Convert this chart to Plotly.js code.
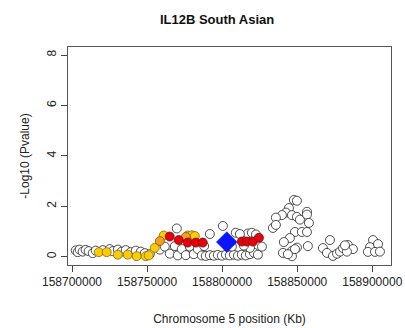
<!DOCTYPE html>
<html>
<head>
<meta charset="utf-8">
<script src="https://cdn.plot.ly/plotly-3.0.1.min.js"></script>
<style>
  html, body { margin: 0; padding: 0; background: #fff; }
  #chart { width: 405px; height: 328px; }
</style>
</head>
<body>
<div id="chart"></div>
<script>
// Regional association plot for IL12B (South Asian), chromosome 5.
// Positions in bp, association strength as -log10(P).

// SNPs with low linkage to the lead variant (open circles), left block
var lowPos = [
  158702500, 158703800, 158705100, 158707100, 158709100, 158711100, 158713800, 158715800,
  158720500, 158725100, 158727100, 158730500, 158733100, 158735800, 158739100, 158742500,
  158745800, 158748500, 158751800,
  158758500, 158761800, 158765100, 158768500, 158770500, 158773100, 158775800, 158778500,
  158781100, 158783800, 158786500, 158789100, 158791800, 158794500, 158797100, 158799800,
  158802500, 158805100, 158807800, 158810500, 158813100, 158815800, 158818500, 158821100,
  158823800, 158826500, 158818500, 158814500, 158817100, 158819800, 158822500, 158809100,
  158811800, 158769800, 158791800, 158800500, 158806500, 158788000
];
var lowLogP = [
  0.25, 0.18, 0.28, 0.20, 0.27, 0.22, 0.14, 0.24,
  0.26, 0.30, 0.22, 0.28, 0.20, 0.26, 0.18, 0.24,
  0.20, 0.14, 0.10,
  0.28, 0.40, 0.12, 0.42, 0.05, 0.30, 0.06, 0.40,
  0.10, 0.30, 0.05, 0.03, 0.06, 0.04, 0.07, 0.04,
  0.08, 0.05, 0.08, 0.04, 0.08, 0.05, 0.10, 0.16,
  0.08, 0.40, 0.35, 0.44, 0.92, 0.95, 0.88, 0.95,
  0.90, 1.12, 0.90, 1.22, 0.40, 0.42
];

// Secondary peak near 158.85 Mb and the SNPs to its right (open circles)
var peakPos = [
  158847800, 158849800, 158844500, 158842500, 158839800, 158835800, 158833800, 158835800,
  158846500, 158849800, 158851800, 158856500, 158856500, 158857800, 158848500, 158853100,
  158856500, 158845100, 158841100, 158857100, 158849800, 158840500, 158846500, 158846500,
  158843800, 158848500,
  158871800, 158867100, 158869800, 158873800, 158876500, 158878500, 158880500, 158883800,
  158887100, 158883100, 158881800,
  158900500, 158898500, 158903800, 158897100, 158901800, 158905100
];
var peakLogP = [
  2.25, 2.22, 1.93, 1.75, 1.65, 1.55, 1.14, 1.26,
  1.65, 1.58, 1.47, 1.78, 1.67, 1.34, 0.98, 0.98,
  0.98, 0.74, 0.58, 0.42, 0.36, 0.15, 0.23, 0.02,
  0.10, 0.30,
  0.66, 0.34, 0.15, 0.03, 0.12, 0.20, 0.34, 0.46,
  0.30, 0.20, 0.45,
  0.66, 0.38, 0.50, 0.19, 0.19, 0.20
];

// Moderate linkage (gold)
var goldPos = [
  158717800, 158723100, 158730500, 158737100, 158743100, 158749100, 158751100,
  158755100, 158761100, 158777100, 158779800, 158781800
];
var goldLogP = [
  0.18, 0.18, 0.08, 0.08, 0.02, 0.02, 0.05,
  0.35, 0.84, 0.84, 0.85, 0.82
];

// Higher linkage (orange)
var orangePos = [158758500, 158775800];
var orangeLogP = [0.62, 0.78];

// Strong linkage (red)
var redPos = [
  158765100, 158771100, 158777100, 158782500, 158787100,
  158813100, 158816500, 158820500, 158824500
];
var redLogP = [
  0.80, 0.66, 0.56, 0.56, 0.56,
  0.60, 0.60, 0.60, 0.75
];

// Lead SNP (blue diamond)
var leadPos = [158803100];
var leadLogP = [0.58];

var xTickVals = [158700000, 158750000, 158800000, 158850000, 158900000];
var xTickText = ['158700000', '158750000', '158800000', '158850000', '158900000'];
var yTickVals = [0, 2, 4, 6, 8];
var yTickText = ['0', '2', '4', '6', '8'];

var FONT = 'Liberation Sans, Arial, sans-serif';

function circles(x, y, fill, edge) {
  return {
    x: x, y: y, type: 'scatter', mode: 'markers', hoverinfo: 'skip',
    marker: { symbol: 'circle', size: 9, color: fill,
              line: { color: edge, width: 0.8 } }
  };
}

var traces = [
  circles(lowPos, lowLogP, '#ffffff', '#222222'),
  circles(peakPos, peakLogP, '#ffffff', '#222222'),
  circles(goldPos, goldLogP, '#ffcc00', '#7a6a20'),
  circles(orangePos, orangeLogP, '#f5a01a', '#7a5020'),
  circles(redPos, redLogP, '#e8000b', '#6a1010'),
  {
    x: leadPos, y: leadLogP, type: 'scatter', mode: 'markers', hoverinfo: 'skip',
    marker: { symbol: 'diamond', size: 16, color: '#0a14ff',
              line: { color: '#0a14ff', width: 0.5 } }
  }
];

var axisCommon = {
  showline: true, mirror: true, linecolor: '#555555', linewidth: 1,
  ticks: 'outside', ticklen: 6, tickwidth: 1, tickcolor: '#444444',
  showgrid: false, zeroline: false,
  tickfont: { family: FONT, size: 12, color: '#222222' }
};

var layout = {
  width: 405, height: 328,
  margin: { l: 68, r: 14, t: 47, b: 63 },
  paper_bgcolor: '#ffffff', plot_bgcolor: '#ffffff',
  showlegend: false,
  font: { family: FONT, size: 12, color: '#222222' },
  title: {
    text: '<b>IL12B South Asian</b>',
    font: { family: FONT, size: 13, color: '#111111' },
    x: 0.536, xanchor: 'center', y: 0.94, yanchor: 'middle'
  },
  xaxis: Object.assign({}, axisCommon, {
    range: [158697333, 158912467],
    tickmode: 'array', tickvals: xTickVals, ticktext: xTickText,
    title: { text: 'Chromosome 5 position (Kb)', standoff: 26,
             font: { family: FONT, size: 12, color: '#222222' } }
  }),
  yaxis: Object.assign({}, axisCommon, {
    range: [-0.33, 8.32],
    tickmode: 'array', tickvals: yTickVals, ticktext: yTickText,
    tickangle: -90,
    title: { text: '-Log10 (Pvalue)', standoff: 13,
             font: { family: FONT, size: 12, color: '#222222' } }
  })
};

Plotly.newPlot('chart', traces, layout, { staticPlot: true, displayModeBar: false });
</script>
</body>
</html>
